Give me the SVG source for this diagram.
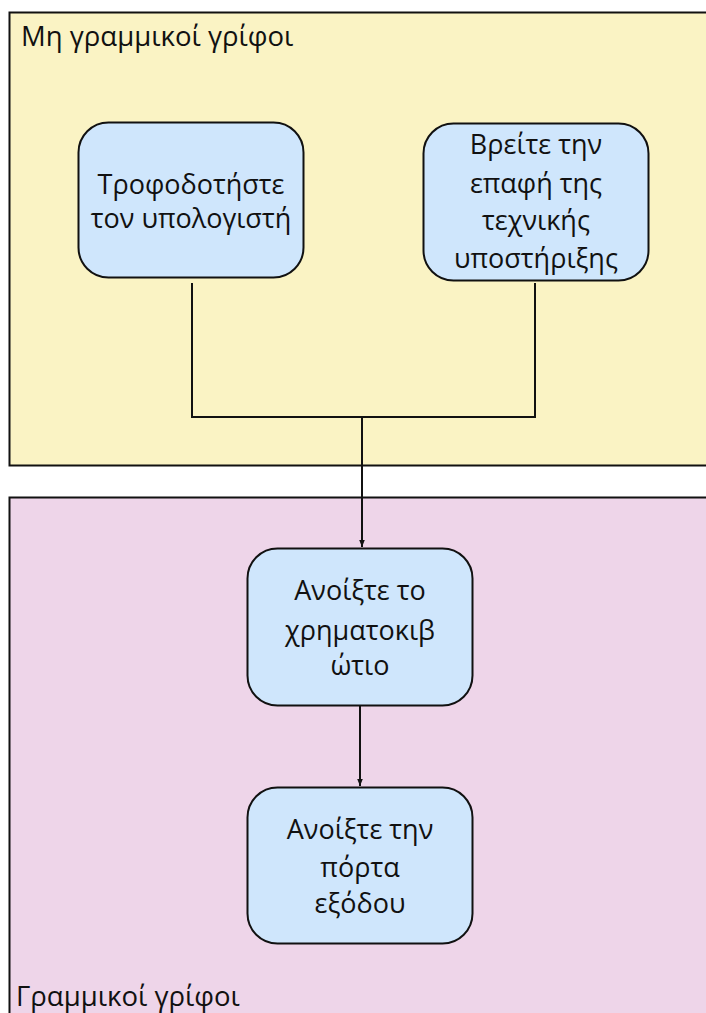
<svg xmlns="http://www.w3.org/2000/svg" width="706" height="1013" viewBox="0 0 706 1013">
<defs>
<style>
.lane{stroke:#111;stroke-width:2}
.node rect{fill:#cfe6fc;stroke:#111;stroke-width:2}
text{font-family:"Open Sans","Noto Sans",sans-serif;fill:#111}
.nt{font-size:27px;text-anchor:middle}
.lt{font-size:27.5px}
.conn{fill:none;stroke:#111;stroke-width:2}
</style>
<marker id="arr" viewBox="0 0 10 10" refX="10" refY="5" markerWidth="7" markerHeight="7" markerUnits="userSpaceOnUse" orient="auto">
<path d="M0,1 L10,5 L0,9 Z" fill="#111"/>
</marker>
</defs>
<rect width="706" height="1013" fill="#ffffff"/>
<g id="lane-nonlinear">
<rect class="lane" x="9.5" y="12.5" width="710" height="453" fill="#faf3c4"/>
<text class="lt" x="21" y="46">Μη γραμμικοί γρίφοι</text>
</g>
<g id="lane-linear">
<rect class="lane" x="9.5" y="497.5" width="710" height="530" fill="#eed5e9"/>
<text class="lt" x="16" y="1006">Γραμμικοί γρίφοι</text>
</g>
<g id="connectors">
<path class="conn" d="M192,283 V417 H535 V283"/>
<path class="conn" d="M362,417 V547" marker-end="url(#arr)"/>
<path class="conn" d="M360,706 V786" marker-end="url(#arr)"/>
</g>
<g id="node-power" class="node">
<rect x="78.5" y="122.5" width="225" height="155" rx="30"/>
<text class="nt" x="191" y="194">Τροφοδοτήστε</text>
<text class="nt" x="191" y="228">τον υπολογιστή</text>
</g>
<g id="node-support" class="node">
<rect x="423.5" y="123.5" width="225" height="157" rx="30"/>
<text class="nt" x="536" y="154">Βρείτε την</text>
<text class="nt" x="536" y="193">επαφή της</text>
<text class="nt" x="536" y="230">τεχνικής</text>
<text class="nt" x="536" y="268">υποστήριξης</text>
</g>
<g id="node-safe" class="node">
<rect x="247.5" y="548.5" width="225" height="157" rx="30"/>
<text class="nt" x="360" y="600">Ανοίξτε το</text>
<text class="nt" x="360" y="640">χρηματοκιβ</text>
<text class="nt" x="360" y="675">ώτιο</text>
</g>
<g id="node-door" class="node">
<rect x="247.5" y="787.5" width="225" height="156" rx="30"/>
<text class="nt" x="360" y="839">Ανοίξτε την</text>
<text class="nt" x="360" y="877">πόρτα</text>
<text class="nt" x="360" y="913">εξόδου</text>
</g>
</svg>
